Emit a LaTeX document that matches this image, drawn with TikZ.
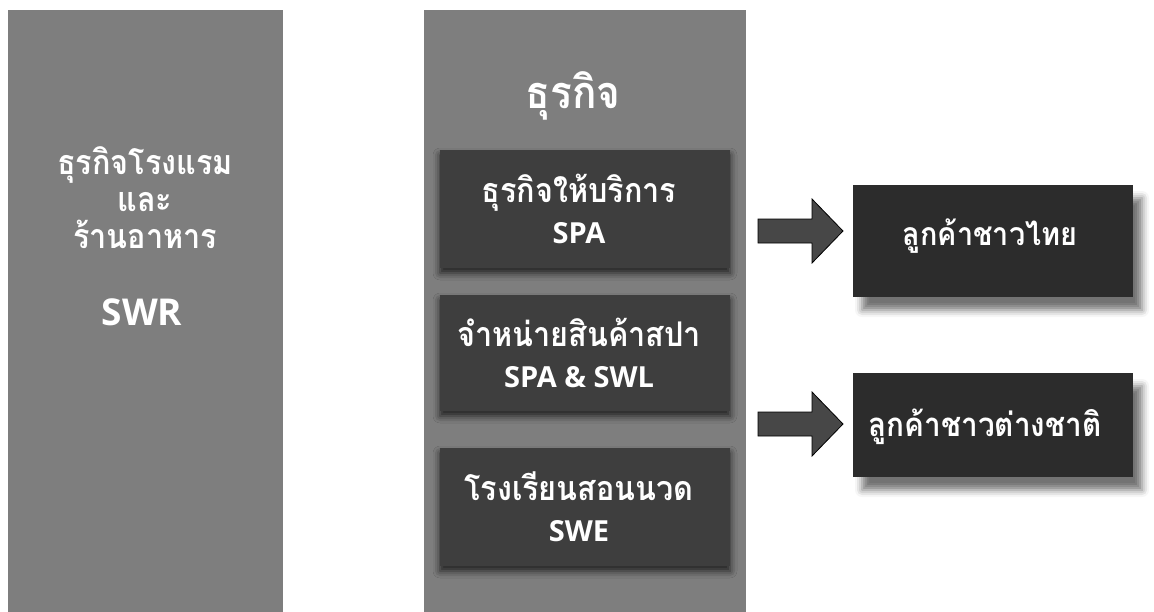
\documentclass[tikz,border=0pt]{standalone}
\usepackage{graphicx}
\usepackage{fontspec}
\setmainfont{Open Sans}
\newfontfamily\thaifont[Script=Thai]{Loma}
\usetikzlibrary{calc,shadows.blur}

% Thai lines are set a little condensed
\newcommand{\thline}[1]{\scalebox{0.9}[1]{\thaifont\bfseries #1}}

\definecolor{panelgray}{HTML}{7E7E7E}
\definecolor{unitgray}{HTML}{3E3E3E}
\definecolor{marketgray}{HTML}{2C2C2C}
\definecolor{arrowgray}{HTML}{474747}

\begin{document}
\begin{tikzpicture}[x=1pt,y=-1pt,
  panel/.style={fill=panelgray, draw=none, inner sep=0pt},
  unitbox/.style={fill=unitgray, draw=none, inner sep=0pt,
    minimum width=290pt,
    blur shadow={shadow xshift=0pt, shadow yshift=-5pt,
      shadow blur radius=7pt, shadow opacity=75}},
  marketbox/.style={fill=marketgray, draw=none, inner sep=0pt,
    minimum width=280pt,
    blur shadow={shadow xshift=9pt, shadow yshift=-13pt,
      shadow blur radius=7pt, shadow opacity=55}},
  label/.style={text=white, align=center, inner sep=0pt},
  unitlabel/.style={label, font=\fontsize{34}{41}\selectfont},
  blockarrow/.style={fill=arrowgray, draw=black, line width=0.8pt, line join=miter}
]
\useasboundingbox (0,0) rectangle (1154,611);

% left column: hotel & restaurant business
\node[panel, minimum width=275pt, minimum height=602pt] (hotel) at (145.5,311) {};
\node[label, font=\fontsize{34}{37}\selectfont] (hoteltxt) at (145,198)
  {\thline{ธุรกิจโรงแรม}\\\thline{และ}\\\thline{ร้านอาหาร}};
\node[label, font=\bfseries\fontsize{37}{40}\selectfont] (swr) at (142,312) {SWR};

% middle column: business units
\node[panel, minimum width=322pt, minimum height=602pt] (biz) at (585,311) {};
\node[label, font=\fontsize{45}{48}\selectfont] (biztitle) at (573,96) {\thline{ธุรกิจ}};

\node[unitbox, minimum height=118pt] (spa) at (585,209) {};
\node[unitlabel] at ($(spa.center)+(-6,0)$)
  {\thline{ธุรกิจให้บริการ}\\
   {\bfseries\fontsize{29}{41}\selectfont SPA}};

\node[unitbox, minimum height=116pt] (swl) at (585,353) {};
\node[unitlabel] at ($(swl.center)+(-6,0)$)
  {\thline{จำหน่ายสินค้าสปา}\\
   {\bfseries\fontsize{29}{41}\selectfont SPA \& SWL}};

\node[unitbox, minimum height=118pt] (swe) at (585,507) {};
\node[unitlabel] at ($(swe.center)+(-6,0)$)
  {\thline{โรงเรียนสอนนวด}\\
   {\bfseries\fontsize{29}{41}\selectfont SWE}};

% right column: customer groups
\node[marketbox, minimum height=112pt] (thai) at (993,241) {};
\node[label, font=\fontsize{32}{40}\selectfont] at ($(thai.center)+(-3,-5)$)
  {\thline{ลูกค้าชาวไทย}};

\node[marketbox, minimum height=104pt] (foreign) at (993,425) {};
\node[label, font=\fontsize{33}{40}\selectfont] at ($(foreign.center)+(-8,2)$)
  {\thline{ลูกค้าชาวต่างชาติ}};

% block arrows towards the customer groups
\coordinate (a1s) at (758,231);
\coordinate (a1e) at (843,231);
\coordinate (a2s) at (758,424);
\coordinate (a2e) at (843,424);
\foreach \s/\e in {a1s/a1e, a2s/a2e}{
  \draw[blockarrow]
    ($(\s)+(0,-12)$) -- ($(\e)+(-31,-12)$) -- ($(\e)+(-31,-32)$) -- (\e)
    -- ($(\e)+(-31,32)$) -- ($(\e)+(-31,12)$) -- ($(\s)+(0,12)$) -- cycle;
}
\end{tikzpicture}
\end{document}
